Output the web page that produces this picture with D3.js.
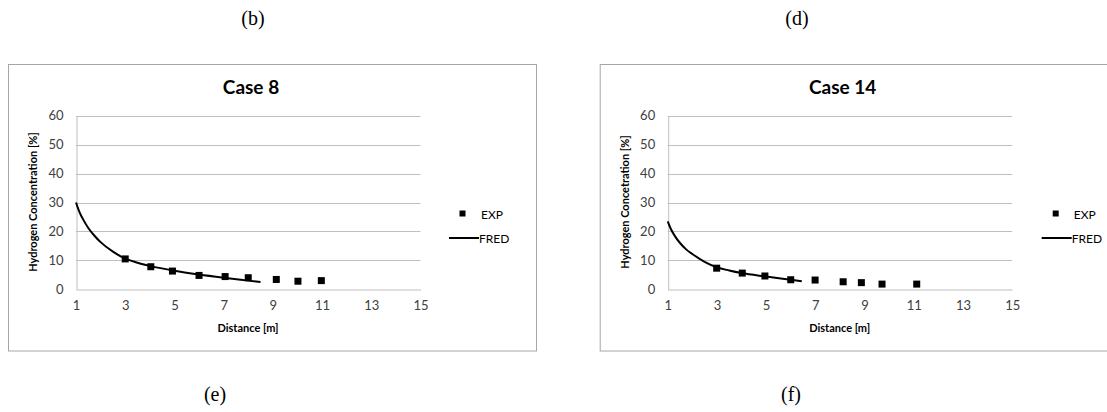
<!DOCTYPE html>
<html><head><meta charset="utf-8">
<script src="https://cdn.jsdelivr.net/npm/d3@7"></script>
<style>
body{margin:0;background:#fff;}
svg{display:block;}
</style></head>
<body><svg id="c" width="1107" height="412"></svg>
<script>
// ---- data ----
const panelLetters = ["(b)", "(d)", "(e)", "(f)"];
const titles = ["Case 8", "Case 14"];
const yLabels = ["Hydrogen Concentration [%]", "Hydrogen Concetration [%]"];
const xLabel = "Distance [m]";
const xTicks = [1, 3, 5, 7, 9, 11, 13, 15];
const yTicks = [0, 10, 20, 30, 40, 50, 60];
const seriesNames = ["EXP", "FRED"];

const case8ExpX = [3.0, 4.04, 4.92, 6.0, 7.06, 8.0, 9.14, 10.02, 10.97];
const case8ExpY = [10.5, 7.8, 6.3, 4.8, 4.4, 4.0, 3.4, 2.8, 3.0];
const case8FredX = [1.0, 1.15, 1.3, 1.5, 1.75, 2.0, 2.5, 3.0, 3.5, 4.0, 5.0, 6.0, 7.0, 8.0, 8.5];
const case8FredY = [30.0, 26.5, 24.0, 21.2, 18.5, 16.3, 13.0, 10.6, 9.2, 8.1, 6.4, 5.1, 4.0, 3.0, 2.5];

const case14ExpX = [2.99, 4.03, 4.95, 6.0, 6.99, 8.13, 8.87, 9.71, 11.12];
const case14ExpY = [7.3, 5.6, 4.6, 3.3, 3.2, 2.6, 2.3, 1.8, 1.8];
const case14FredX = [1.0, 1.15, 1.3, 1.5, 1.75, 2.0, 2.5, 3.0, 3.5, 4.0, 5.0, 6.0, 6.45];
const case14FredY = [23.5, 20.5, 18.3, 16.0, 13.8, 12.2, 9.5, 7.6, 6.5, 5.6, 4.4, 3.3, 2.8];

const cases = [
  {title: titles[0], yLabel: yLabels[0], ex: case8ExpX, ey: case8ExpY, fx: case8FredX, fy: case8FredY},
  {title: titles[1], yLabel: yLabels[1], ex: case14ExpX, ey: case14ExpY, fx: case14FredX, fy: case14FredY}
];

// ---- layout ----
const svg = d3.select("#c");
const offsets = [0, 591.7];
const letterPos = [[253, 18], [797, 18], [215, 394], [791, 394]];

panelLetters.forEach((t, i) => {
  svg.append("text").attr("x", letterPos[i][0]).attr("y", letterPos[i][1])
    .attr("text-anchor", "middle").attr("dominant-baseline", "central")
    .attr("font-family", "Liberation Serif, Times New Roman, serif").attr("font-size", 20)
    .attr("fill", "#000").text(t);
});

cases.forEach((c, i) => {
  const ox = offsets[i];
  const g = svg.append("g").attr("transform", `translate(${ox},0)`);
  // chart frame
  g.append("rect").attr("x", 8.5).attr("y", 64.5).attr("width", 528).attr("height", 286.5)
    .attr("fill", "#fff").attr("stroke", "#a6a6a6").attr("stroke-width", 1);

  const x = d3.scaleLinear().domain([1, 15]).range([76, 420.5]);
  const y = d3.scaleLinear().domain([0, 60]).range([289.3, 115.7]);

  // gridlines
  g.append("g").selectAll("line").data(yTicks.filter(v => v > 0)).join("line")
    .attr("x1", x(1)).attr("x2", x(15))
    .attr("y1", d => Math.round(y(d)) + 0.5).attr("y2", d => Math.round(y(d)) + 0.5)
    .attr("stroke", "#bfbfbf").attr("stroke-width", 1);

  // y axis
  const ya = g.append("g").attr("transform", `translate(${Math.round(x(1)) + 0.5},0)`)
    .call(d3.axisLeft(y).tickValues(yTicks).tickSize(0).tickPadding(13));
  ya.select(".domain").attr("stroke", "#bfbfbf");
  ya.selectAll("text").attr("font-family", "Lato, Open Sans, sans-serif").attr("font-size", 13).attr("fill", "#404040");

  // x axis
  const xa = g.append("g").attr("transform", `translate(0,${Math.round(y(0)) + 0.5})`)
    .call(d3.axisBottom(x).tickValues(xTicks).tickSize(0).tickPadding(11));
  xa.select(".domain").attr("stroke", "#bfbfbf");
  xa.selectAll("text").attr("font-family", "Lato, Open Sans, sans-serif").attr("font-size", 13).attr("fill", "#404040");

  // title
  g.append("text").attr("x", 251).attr("y", 94).attr("text-anchor", "middle")
    .attr("font-family", "Lato, Open Sans, sans-serif").attr("font-weight", "bold").attr("font-size", 19)
    .attr("fill", "#000").text(c.title);

  // axis titles
  g.append("text").attr("transform", `translate(37,202) rotate(-90)`).attr("text-anchor", "middle")
    .attr("font-family", "Lato, Open Sans, sans-serif").attr("font-weight", "bold").attr("font-size", 11)
    .attr("fill", "#000").text(c.yLabel);
  g.append("text").attr("x", 248).attr("y", 332).attr("text-anchor", "middle")
    .attr("font-family", "Lato, Open Sans, sans-serif").attr("font-weight", "bold").attr("font-size", 11)
    .attr("fill", "#000").text(xLabel);

  // FRED line
  const fred = c.fx.map((v, k) => [v, c.fy[k]]);
  g.append("path").datum(fred)
    .attr("d", d3.line().x(d => x(d[0])).y(d => y(d[1])).curve(d3.curveMonotoneX))
    .attr("fill", "none").attr("stroke", "#000").attr("stroke-width", 2);

  // EXP markers
  const exp = c.ex.map((v, k) => [v, c.ey[k]]);
  g.append("g").selectAll("rect").data(exp).join("rect")
    .attr("x", d => x(d[0]) - 3.5).attr("y", d => y(d[1]) - 3.5)
    .attr("width", 7).attr("height", 7).attr("fill", "#000");

  // legend
  const lg = g.append("g");
  lg.append("rect").attr("x", 459.5 + (i ? 1.5 : 0)).attr("y", 210.5).attr("width", 6).attr("height", 6).attr("fill", "#000");
  lg.append("text").attr("x", 481 + (i ? 1 : 0)).attr("y", 214).attr("dominant-baseline", "central")
    .attr("font-family", "Lato, Open Sans, sans-serif").attr("font-size", 12).attr("fill", "#000").text(seriesNames[0]);
  lg.append("line").attr("x1", 449 + (i ? 1 : 0)).attr("x2", 479 + (i ? 1 : 0)).attr("y1", 238).attr("y2", 238)
    .attr("stroke", "#000").attr("stroke-width", 2);
  lg.append("text").attr("x", 479 + (i ? 1 : 0)).attr("y", 238).attr("dominant-baseline", "central")
    .attr("font-family", "Lato, Open Sans, sans-serif").attr("font-size", 12).attr("fill", "#000").text(seriesNames[1]);
});
</script></body></html>
